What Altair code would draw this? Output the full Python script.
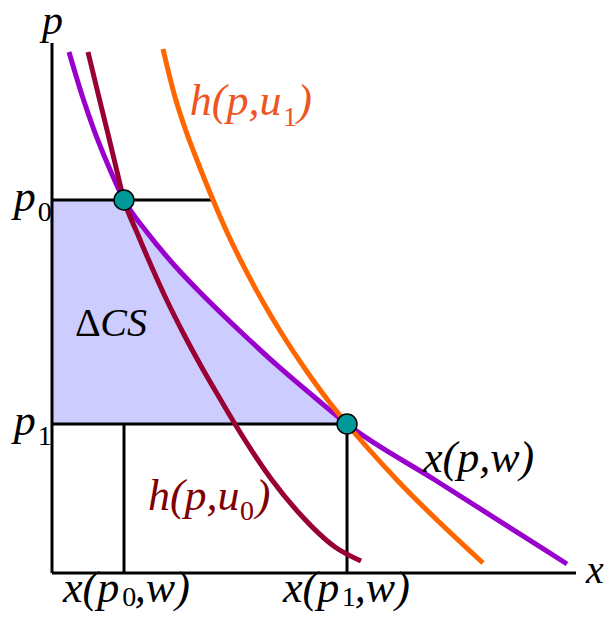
import altair as alt
import pandas as pd

# ---- data (quantity x, price p) ----
xw_x = [0.324, 0.584, 0.802, 1.053, 1.374, 1.824, 2.365, 2.819, 3.626, 4.332, 5.073, 5.630, 7.309, 9.828]
xw_p = [9.830, 8.981, 8.358, 7.736, 7.038, 6.415, 5.774, 5.302, 4.528, 3.887, 3.264, 2.811, 1.755, 0.170]

hu0_x = [0.687, 0.895, 1.050, 1.202, 1.374, 1.626, 1.903, 2.189, 2.504, 2.855, 3.221, 3.492, 4.198, 4.714, 5.401, 5.897]
hu0_p = [9.830, 8.981, 8.358, 7.736, 7.038, 6.415, 5.774, 5.151, 4.528, 3.887, 3.264, 2.811, 1.755, 1.132, 0.491, 0.226]

hu1_x = [2.118, 2.347, 2.550, 2.788, 3.073, 3.338, 3.664, 4.004, 4.378, 4.805, 5.261, 5.630, 6.584, 8.225]
hu1_p = [9.887, 8.981, 8.358, 7.736, 7.038, 6.434, 5.774, 5.151, 4.528, 3.887, 3.264, 2.811, 1.755, 0.189]

p0, p1 = 7.038, 2.811
x0, x1 = 1.374, 5.630
p0_line_end = 3.073
axis_max = 10

# labels: italic parts
it_text = ["p", "x", "p", "p", "x(p", ",w)", "x(p", ",w)", "h(p,u", ")", "h(p,u", ")", "x(p,w)", "CS"]
it_x = [-0.19, 10.19, -0.73, -0.73, 0.21, 1.58, 4.41, 5.78, 2.63, 4.68, 1.83, 3.89, 7.08, 0.92]
it_p = [10.17, -0.19, 6.83, 2.60, -0.547, -0.547, -0.547, -0.547, 8.64, 8.64, 1.19, 1.19, 1.91, 4.47]
it_size = [42, 40, 44, 44, 44, 44, 44, 44, 44, 44, 44, 44, 44, 40]
it_color = ["black", "black", "black", "black", "black", "black", "black", "black",
            "#EE5522", "#EE5522", "#800000", "#800000", "black", "black"]
# labels: upright parts (subscripts, delta)
up_text = ["0", "1", "0", "1", "1", "0", "Δ"]
up_x = [-0.27, -0.27, 1.34, 5.53, 4.41, 3.59, 0.44]
up_p = [6.64, 2.42, -0.62, -0.62, 8.43, 1.00, 4.47]
up_size = [28, 28, 28, 28, 28, 28, 40]
up_color = ["black", "black", "black", "black", "#EE5522", "#800000", "black"]

# ---- tables ----
curves = pd.concat([
    pd.DataFrame({"x": xw_x, "p": xw_p, "series": "x(p,w)"}),
    pd.DataFrame({"x": hu0_x, "p": hu0_p, "series": "h(p,u0)"}),
    pd.DataFrame({"x": hu1_x, "p": hu1_p, "series": "h(p,u1)"}),
])
shade = pd.DataFrame({"x": xw_x, "p": xw_p})
shade = shade[(shade.p >= p1) & (shade.p <= p0)]

guides = pd.DataFrame({
    "x": [0, 0, x0, x1],
    "x2": [p0_line_end, x1, x0, x1],
    "p": [p0, p1, 0, 0],
    "p2": [p0, p1, p1, p1],
})
axes = pd.DataFrame({
    "x": [0, 0],
    "x2": [axis_max, 0],
    "p": [0, 0],
    "p2": [0, axis_max],
})
eq = pd.DataFrame({"x": [x0, x1], "p": [p0, p1]})
it_df = pd.DataFrame({"t": it_text, "x": it_x, "p": it_p, "s": it_size, "c": it_color})
up_df = pd.DataFrame({"t": up_text, "x": up_x, "p": up_p, "s": up_size, "c": up_color})

xs = alt.Scale(domain=[0, 10], nice=False, zero=False)
ys = alt.Scale(domain=[0, 10], nice=False, zero=False)

area = alt.Chart(shade).mark_area(
    color="#CCCCFF", opacity=1, orient="horizontal", interpolate="monotone"
).encode(
    x=alt.X("x:Q", scale=xs, stack=None, axis=None),
    y=alt.Y("p:Q", scale=ys, axis=None),
)

guide_layer = alt.Chart(guides).mark_rule(color="black", strokeWidth=3).encode(
    x=alt.X("x:Q", scale=xs, axis=None), x2="x2:Q",
    y=alt.Y("p:Q", scale=ys, axis=None), y2="p2:Q",
)

axis_layer = alt.Chart(axes).mark_rule(color="black", strokeWidth=3).encode(
    x=alt.X("x:Q", scale=xs, axis=None), x2="x2:Q",
    y=alt.Y("p:Q", scale=ys, axis=None), y2="p2:Q",
)

lines = alt.Chart(curves).mark_line(strokeWidth=5, interpolate="monotone").encode(
    x=alt.X("x:Q", scale=xs, axis=None),
    y=alt.Y("p:Q", scale=ys, axis=None),
    color=alt.Color("series:N", legend=None,
                    scale=alt.Scale(domain=["x(p,w)", "h(p,u0)", "h(p,u1)"],
                                    range=["#9900CC", "#990033", "#FF6600"])),
    detail="series:N",
)

pts = alt.Chart(eq).mark_circle(size=400, color="#009999", opacity=1,
                                stroke="black", strokeWidth=1.5).encode(
    x=alt.X("x:Q", scale=xs, axis=None),
    y=alt.Y("p:Q", scale=ys, axis=None),
)

it_layer = alt.Chart(it_df).mark_text(
    font="Liberation Serif", fontStyle="italic", align="left", baseline="alphabetic"
).encode(
    x=alt.X("x:Q", scale=xs, axis=None),
    y=alt.Y("p:Q", scale=ys, axis=None),
    text="t:N",
    size=alt.Size("s:Q", scale=None),
    color=alt.Color("c:N", scale=None),
)

up_layer = alt.Chart(up_df).mark_text(
    font="Liberation Serif", align="left", baseline="alphabetic"
).encode(
    x=alt.X("x:Q", scale=xs, axis=None),
    y=alt.Y("p:Q", scale=ys, axis=None),
    text="t:N",
    size=alt.Size("s:Q", scale=None),
    color=alt.Color("c:N", scale=None),
)

chart = alt.layer(area, guide_layer, axis_layer, lines, pts, it_layer, up_layer).resolve_scale(
    color="independent"
).properties(
    width=524, height=530, autosize="none",
    padding={"left": 44, "top": 35, "right": 28, "bottom": 40},
    background="white",
).configure_view(stroke=None)

chart.save("out.html", embed_options={"renderer": "svg", "actions": False})
